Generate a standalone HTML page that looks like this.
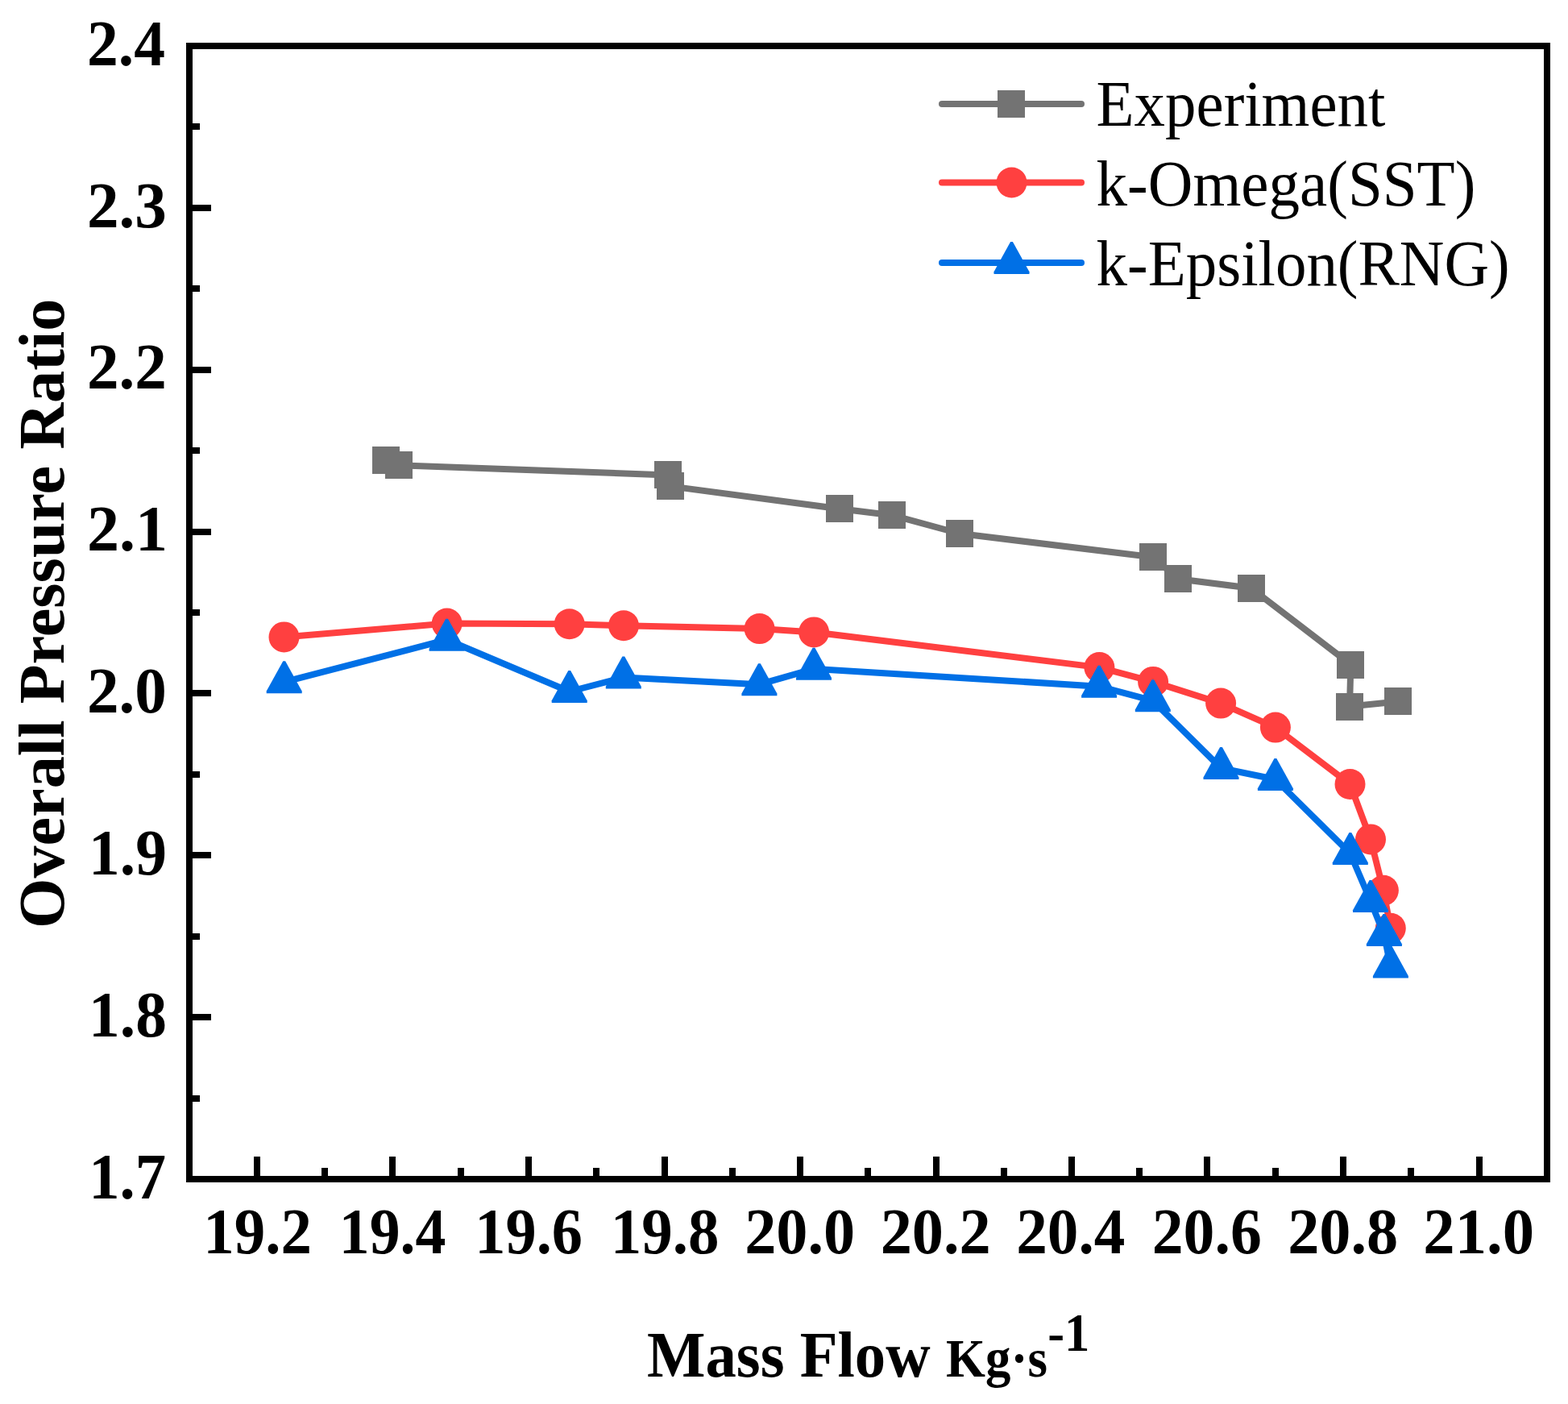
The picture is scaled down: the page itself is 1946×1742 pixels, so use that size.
<!DOCTYPE html>
<html><head><meta charset="utf-8"><title>Overall Pressure Ratio vs Mass Flow</title>
<style>html,body{margin:0;padding:0;background:#fff;}svg{display:block;}</style>
</head><body>
<svg width="1946" height="1742" viewBox="0 0 1946 1742" font-family="&quot;Liberation Serif&quot;, &quot;Times New Roman&quot;, serif">
<rect x="0" y="0" width="1946" height="1742" fill="#fff"/>
<g fill="#000"><rect x="315" y="1435" width="8" height="24"/><rect x="399" y="1449" width="8" height="10"/><rect x="483" y="1435" width="8" height="24"/><rect x="568" y="1449" width="8" height="10"/><rect x="652" y="1435" width="8" height="24"/><rect x="736" y="1449" width="8" height="10"/><rect x="821" y="1435" width="8" height="24"/><rect x="905" y="1449" width="8" height="10"/><rect x="989" y="1435" width="8" height="24"/><rect x="1073" y="1449" width="8" height="10"/><rect x="1158" y="1435" width="8" height="24"/><rect x="1242" y="1449" width="8" height="10"/><rect x="1326" y="1435" width="8" height="24"/><rect x="1410" y="1449" width="8" height="10"/><rect x="1494" y="1435" width="8" height="24"/><rect x="1579" y="1449" width="8" height="10"/><rect x="1663" y="1435" width="8" height="24"/><rect x="1747" y="1449" width="8" height="10"/><rect x="1832" y="1435" width="8" height="24"/><rect x="239" y="1359" width="9" height="8"/><rect x="239" y="1258" width="23" height="8"/><rect x="239" y="1158" width="9" height="8"/><rect x="239" y="1057" width="23" height="8"/><rect x="239" y="957" width="9" height="8"/><rect x="239" y="856" width="23" height="8"/><rect x="239" y="756" width="9" height="8"/><rect x="239" y="656" width="23" height="8"/><rect x="239" y="555" width="9" height="8"/><rect x="239" y="455" width="23" height="8"/><rect x="239" y="354" width="9" height="8"/><rect x="239" y="254" width="23" height="8"/><rect x="239" y="153" width="9" height="8"/></g>
<rect x="235" y="57" width="1685" height="1406" fill="none" stroke="#000" stroke-width="8"/>
<g font-size="80" font-weight="bold" fill="#000"><text x="110.2" y="1486.6" textLength="95.8" lengthAdjust="spacingAndGlyphs">1.7</text><text x="110.1" y="1285.7" textLength="96.8" lengthAdjust="spacingAndGlyphs">1.8</text><text x="110.1" y="1084.9" textLength="96.8" lengthAdjust="spacingAndGlyphs">1.9</text><text x="108.0" y="884.0" textLength="98.9" lengthAdjust="spacingAndGlyphs">2.0</text><text x="108.0" y="683.2" textLength="100.0" lengthAdjust="spacingAndGlyphs">2.1</text><text x="108.0" y="482.3" textLength="98.9" lengthAdjust="spacingAndGlyphs">2.2</text><text x="108.0" y="281.5" textLength="98.9" lengthAdjust="spacingAndGlyphs">2.3</text><text x="108.1" y="80.6" textLength="96.9" lengthAdjust="spacingAndGlyphs">2.4</text><text x="252.2" y="1555" textLength="134.7" lengthAdjust="spacingAndGlyphs">19.2</text><text x="420.8" y="1555" textLength="132.6" lengthAdjust="spacingAndGlyphs">19.4</text><text x="589.3" y="1555" textLength="133.6" lengthAdjust="spacingAndGlyphs">19.6</text><text x="757.7" y="1555" textLength="134.7" lengthAdjust="spacingAndGlyphs">19.8</text><text x="924.2" y="1555" textLength="137.1" lengthAdjust="spacingAndGlyphs">20.0</text><text x="1092.7" y="1555" textLength="137.1" lengthAdjust="spacingAndGlyphs">20.2</text><text x="1261.2" y="1555" textLength="135.1" lengthAdjust="spacingAndGlyphs">20.4</text><text x="1429.7" y="1555" textLength="136.1" lengthAdjust="spacingAndGlyphs">20.6</text><text x="1598.2" y="1555" textLength="137.1" lengthAdjust="spacingAndGlyphs">20.8</text><text x="1766.3" y="1555" textLength="137.7" lengthAdjust="spacingAndGlyphs">21.0</text></g>
<text transform="translate(79,1152.0) rotate(-90)" x="0" y="0" font-size="80" font-weight="bold" textLength="781.3" lengthAdjust="spacingAndGlyphs">Overall Pressure Ratio</text>
<text x="803.0" y="1708.0" font-size="80" font-weight="bold" textLength="351.6" lengthAdjust="spacingAndGlyphs" >Mass Flow</text>
<text x="1174.1" y="1708.0" font-size="67" font-weight="bold" textLength="125.8" lengthAdjust="spacingAndGlyphs" >Kg·s</text>
<text x="1300.2" y="1676.0" font-size="68" font-weight="bold" textLength="52.2" lengthAdjust="spacingAndGlyphs" >-1</text>
<polyline points="478.9,571.1 495.2,577.2 829.2,589.4 832.0,603.4 1042.0,631.3 1106.8,639.2 1191.0,662.0 1430.8,691.3 1462.0,718.2 1552.9,729.8 1676.4,824.5 1675.0,876.5 1734.6,870.4" fill="none" stroke="#737373" stroke-width="8" stroke-linejoin="round" stroke-linecap="round"/>
<g fill="#737373"><rect x="462" y="554" width="34" height="34"/><rect x="478" y="560" width="34" height="34"/><rect x="812" y="572" width="34" height="34"/><rect x="815" y="586" width="34" height="34"/><rect x="1025" y="614" width="34" height="34"/><rect x="1090" y="622" width="34" height="34"/><rect x="1174" y="645" width="34" height="34"/><rect x="1414" y="674" width="34" height="34"/><rect x="1445" y="701" width="34" height="34"/><rect x="1536" y="713" width="34" height="34"/><rect x="1659" y="808" width="34" height="34"/><rect x="1658" y="860" width="34" height="34"/><rect x="1718" y="853" width="34" height="34"/></g>
<polyline points="352.5,790.4 554.7,773.6 706.7,774.2 774.0,776.2 942.6,780.1 1010.1,784.4 1364.4,828.1 1431.1,845.9 1515.1,872.6 1582.9,902.6 1675.5,973.0 1701.0,1041.4 1716.9,1104.8 1725.8,1151.7" fill="none" stroke="#ff4040" stroke-width="8" stroke-linejoin="round" stroke-linecap="round"/>
<g fill="#ff4040"><circle cx="352.5" cy="790.4" r="19"/><circle cx="554.7" cy="773.6" r="19"/><circle cx="706.7" cy="774.2" r="19"/><circle cx="774.0" cy="776.2" r="19"/><circle cx="942.6" cy="780.1" r="19"/><circle cx="1010.1" cy="784.4" r="19"/><circle cx="1364.4" cy="828.1" r="19"/><circle cx="1431.1" cy="845.9" r="19"/><circle cx="1515.1" cy="872.6" r="19"/><circle cx="1582.9" cy="902.6" r="19"/><circle cx="1675.5" cy="973.0" r="19"/><circle cx="1701.0" cy="1041.4" r="19"/><circle cx="1716.9" cy="1104.8" r="19"/><circle cx="1725.8" cy="1151.7" r="19"/></g>
<polyline points="352.7,846.2 554.6,793.7 706.7,858.0 773.8,840.5 942.4,849.2 1010.0,829.8 1364.1,851.7 1430.8,869.3 1515.5,953.1 1582.9,967.0 1675.8,1059.0 1701.0,1118.0 1717.9,1160.0 1725.9,1199.6" fill="none" stroke="#0070e6" stroke-width="8" stroke-linejoin="round" stroke-linecap="round"/>
<g fill="#0070e6"><polygon points="351.3,820.2 354.1,820.2 374.7,857.5 374.7,860.2 330.7,860.2 330.7,857.5"/><polygon points="553.2,767.7 556.0,767.7 576.6,805.0 576.6,807.7 532.6,807.7 532.6,805.0"/><polygon points="705.3,832.0 708.1,832.0 728.7,869.3 728.7,872.0 684.7,872.0 684.7,869.3"/><polygon points="772.4,814.5 775.2,814.5 795.8,851.8 795.8,854.5 751.8,854.5 751.8,851.8"/><polygon points="941.0,823.2 943.8,823.2 964.4,860.5 964.4,863.2 920.4,863.2 920.4,860.5"/><polygon points="1008.6,803.8 1011.4,803.8 1032.0,841.1 1032.0,843.8 988.0,843.8 988.0,841.1"/><polygon points="1362.7,825.7 1365.5,825.7 1386.1,863.0 1386.1,865.7 1342.1,865.7 1342.1,863.0"/><polygon points="1429.4,843.3 1432.2,843.3 1452.8,880.6 1452.8,883.3 1408.8,883.3 1408.8,880.6"/><polygon points="1514.1,927.1 1516.9,927.1 1537.5,964.4 1537.5,967.1 1493.5,967.1 1493.5,964.4"/><polygon points="1581.5,941.0 1584.3,941.0 1604.9,978.3 1604.9,981.0 1560.9,981.0 1560.9,978.3"/><polygon points="1674.4,1033.0 1677.2,1033.0 1697.8,1070.3 1697.8,1073.0 1653.8,1073.0 1653.8,1070.3"/><polygon points="1699.6,1092.0 1702.4,1092.0 1723.0,1129.3 1723.0,1132.0 1679.0,1132.0 1679.0,1129.3"/><polygon points="1716.5,1134.0 1719.3,1134.0 1739.9,1171.3 1739.9,1174.0 1695.9,1174.0 1695.9,1171.3"/><polygon points="1724.5,1173.6 1727.3,1173.6 1747.9,1210.9 1747.9,1213.6 1703.9,1213.6 1703.9,1210.9"/></g>
<line x1="1169.0" y1="129" x2="1342.0" y2="129" stroke="#737373" stroke-width="8" stroke-linecap="round"/>
<g fill="#737373"><rect x="1238" y="112" width="34" height="34"/></g>
<line x1="1169.0" y1="226.5" x2="1342.0" y2="226.5" stroke="#ff4040" stroke-width="8" stroke-linecap="round"/>
<g fill="#ff4040"><circle cx="1255.5" cy="226.5" r="19"/></g>
<line x1="1169.0" y1="326" x2="1342.0" y2="326" stroke="#0070e6" stroke-width="8" stroke-linecap="round"/>
<g fill="#0070e6"><polygon points="1254.1,300.0 1256.9,300.0 1277.5,337.3 1277.5,340.0 1233.5,340.0 1233.5,337.3"/></g>
<text x="1360.6" y="156.0" font-size="80" font-weight="normal" textLength="358.8" lengthAdjust="spacingAndGlyphs" >Experiment</text>
<text x="1360.6" y="255.0" font-size="80" font-weight="normal" textLength="470.7" lengthAdjust="spacingAndGlyphs" >k-Omega(SST)</text>
<text x="1360.6" y="353.7" font-size="80" font-weight="normal" textLength="513.0" lengthAdjust="spacingAndGlyphs" >k-Epsilon(RNG)</text>
</svg>
</body></html>
